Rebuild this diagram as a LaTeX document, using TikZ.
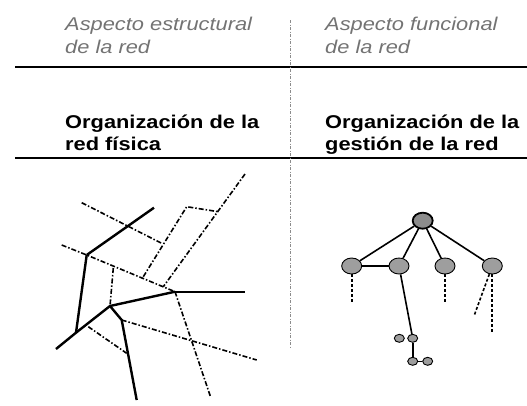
\documentclass[tikz,border=0pt]{standalone}
\usepackage{fontspec}
\setmainfont{Liberation Sans}[FakeStretch=1.18]
\usepackage{tikz}
\usetikzlibrary{shapes.geometric}

\begin{document}
\begin{tikzpicture}[x=1pt, y=-1pt,
  aspecto/.style={anchor=base west, inner sep=0pt, align=left, text=black!55,
    font=\fontsize{18.5}{23}\selectfont\itshape},
  organiz/.style={anchor=base west, inner sep=0pt, align=left, text=black,
    font=\fontsize{18.5}{22}\selectfont\bfseries},
  regla/.style={line width=1.5pt},
  separa/.style={black!45, line width=0.9pt, dash pattern=on 3pt off 1.5pt on 1pt off 1.5pt},
  troncal/.style={line width=2.4pt},
  tramo/.style={line width=1.6pt, dash pattern=on 5pt off 2pt on 1.5pt off 2pt},
  enlace/.style={line width=1.6pt},
  nodo/.style={ellipse, draw, line width=0.9pt, fill=black!38, minimum width=20pt, minimum height=16pt, inner sep=0pt},
  raiz/.style={nodo, line width=1.8pt, fill=black!45},
  hoja/.style={nodo, minimum width=10pt, minimum height=8pt},
  ramal/.style={line width=2.2pt, dash pattern=on 3pt off 2pt}]
\useasboundingbox (0,0) rectangle (527,405);

\node[aspecto] (estruct) at (65,53) {Aspecto estructural\\de la red};
\node[aspecto] (funcion) at (325,53) {Aspecto funcional\\de la red};
\node[organiz] (fisica) at (65,150) {Organización de la\\red física};
\node[organiz] (gestion) at (325,150) {Organización de la\\gestión de la red};

\coordinate (r1a) at (15,67);
\coordinate (r1b) at (527,67);
\coordinate (r2a) at (15,158);
\coordinate (r2b) at (527,158);
\coordinate (sa) at (290,20);
\coordinate (sb) at (290,347);
\draw[regla] (r1a) -- (r1b);
\draw[regla] (r2a) -- (r2b);
\draw[separa] (sa) -- (sb);

% red fisica
\coordinate (p1) at (86.7,255);
\coordinate (p2) at (76,332.7);
\coordinate (p3) at (110,306);
\coordinate (p4) at (175,291.7);
\coordinate (p5) at (121.7,320);
\coordinate (ea) at (154,207.7);
\coordinate (eb1) at (81.7,202.7);
\coordinate (eb2) at (161.7,243.3);
\coordinate (ec) at (61.7,245);
\coordinate (ee) at (56,349);
\coordinate (ef) at (245,291.7);
\coordinate (eg) at (113.3,268);
\coordinate (eh1) at (143.3,276.7);
\coordinate (eh2) at (186.7,206.7);
\coordinate (eh3) at (218.3,211.7);
\coordinate (eh4) at (245,174);
\coordinate (eh5) at (163.3,286.7);
\coordinate (ei) at (136.7,400);
\coordinate (ej) at (256.7,360);
\coordinate (ek1) at (88.3,326.7);
\coordinate (ek2) at (126.7,353.3);
\coordinate (el) at (210.7,397.3);

\draw[troncal] (p1) -- (ea);
\draw[troncal] (p1) -- (p2);
\draw[troncal] (ee) -- (p2) -- (p3) -- (p4);
\draw[troncal] (p3) -- (p5) -- (ei);
\draw[enlace] (p4) -- (ef);
\draw[tramo] (eb1) -- (eb2);
\draw[tramo] (ec) -- (p1) -- (p4);
\draw[tramo] (eg) -- (p3);
\draw[tramo] (eh1) -- (eh2) -- (eh3);
\draw[tramo] (eh4) -- (eh5);
\draw[tramo] (p5) -- (ej);
\draw[tramo] (ek1) -- (ek2);
\draw[tramo] (p4) -- (el);

% red de gestion
\node[raiz] (gestor) at (422.7,220.7) {};
\node[nodo] (agente1) at (351.7,266) {};
\node[nodo] (agente2) at (399,266) {};
\node[nodo] (agente3) at (445,266) {};
\node[nodo] (agente4) at (492.3,266) {};
\node[hoja] (sub1) at (399.3,338.3) {};
\node[hoja] (sub2) at (412.7,338.3) {};
\node[hoja] (sub3) at (412.7,361.3) {};
\node[hoja] (sub4) at (427.7,361.3) {};
\coordinate (baja1) at (351.7,304);
\coordinate (baja3) at (445,304);
\coordinate (baja4) at (492.3,333);
\coordinate (baja5) at (474,316);

\foreach \n in {1,...,4}
  \draw[enlace] (gestor) -- (agente\n);
\draw[enlace] (agente1) -- (agente2);
\draw[enlace] (agente2) -- (sub2);
\draw[enlace] (sub2) -- (sub3);
\draw[enlace] (sub3) -- (sub4);
\draw[ramal] (agente1) -- (baja1);
\draw[ramal, line width=1.4pt] (agente3) -- (baja3);
\draw[ramal] (agente4) -- (baja4);
\draw[ramal, line width=1.6pt] (agente4) -- (baja5);
\end{tikzpicture}
\end{document}
